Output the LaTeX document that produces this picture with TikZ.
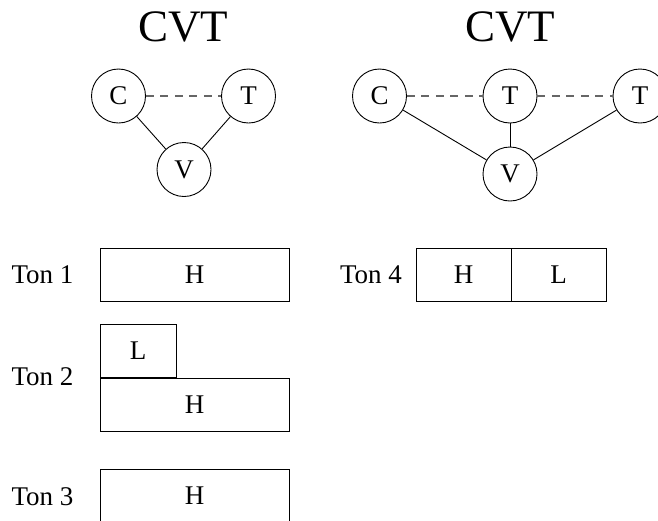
\documentclass[tikz,border=0pt]{standalone}
\usepackage{fontspec}
\setmainfont{Liberation Serif}
\begin{document}
\begin{tikzpicture}[x=1pt,y=-1pt,
  vtx/.style={circle,draw,line width=0.9pt,minimum size=54pt,inner sep=0pt,font=\fontsize{27}{30}\selectfont},
  ttl/.style={font=\fontsize{45}{50}\selectfont,inner sep=0pt},
  lbl/.style={font=\fontsize{27}{30}\selectfont,inner sep=0pt},
  seg/.style={draw,line width=1pt,inner sep=0pt,font=\fontsize{27}{30}\selectfont},
  link/.style={line width=0.9pt},
  weak/.style={line width=1.1pt,draw=black!60,dash pattern=on 8pt off 6.5pt}]
\useasboundingbox (0,0) rectangle (658,520);
% left graph
\node[ttl] (t1) at (183,27) {CVT};
\node[vtx] (c1) at (118.5,96) {C};
\node[vtx] (r1) at (248.5,96) {T};
\node[vtx] (v1) at (184,169.5) {V};
\draw[weak] (c1) -- (r1);
\draw[link] (c1) -- (v1);
\draw[link] (r1) -- (v1);
% right graph
\node[ttl] (t2) at (510,27) {CVT};
\node[vtx] (c2) at (379.5,96) {C};
\node[vtx] (m2) at (510,96) {T};
\node[vtx] (r2) at (640,96) {T};
\node[vtx] (v2) at (510,174) {V};
\draw[weak] (c2) -- (m2);
\draw[weak] (m2) -- (r2);
\draw[link] (c2) -- (v2);
\draw[link] (m2) -- (v2);
\draw[link] (r2) -- (v2);
% tones
\node[lbl] (n1) at (42.5,275) {Ton 1};
\node[seg,minimum width=189pt,minimum height=53pt] (h1) at (194.5,274.5) {H};
\node[lbl] (n2) at (42.5,377) {Ton 2};
\node[seg,minimum width=76pt,minimum height=53pt] (l2) at (138,350.5) {L};
\node[seg,minimum width=189pt,minimum height=53pt] (h2) at (194.5,404.5) {H};
\node[lbl] (n3) at (42.5,497) {Ton 3};
\node[seg,minimum width=189pt,minimum height=53pt] (h3) at (194.5,495.5) {H};
\node[lbl] (n4) at (371,275) {Ton 4};
\node[seg,minimum width=95pt,minimum height=53pt] (h4) at (463.5,274.5) {H};
\node[seg,minimum width=95pt,minimum height=53pt] (l4) at (558.5,274.5) {L};
\end{tikzpicture}
\end{document}
